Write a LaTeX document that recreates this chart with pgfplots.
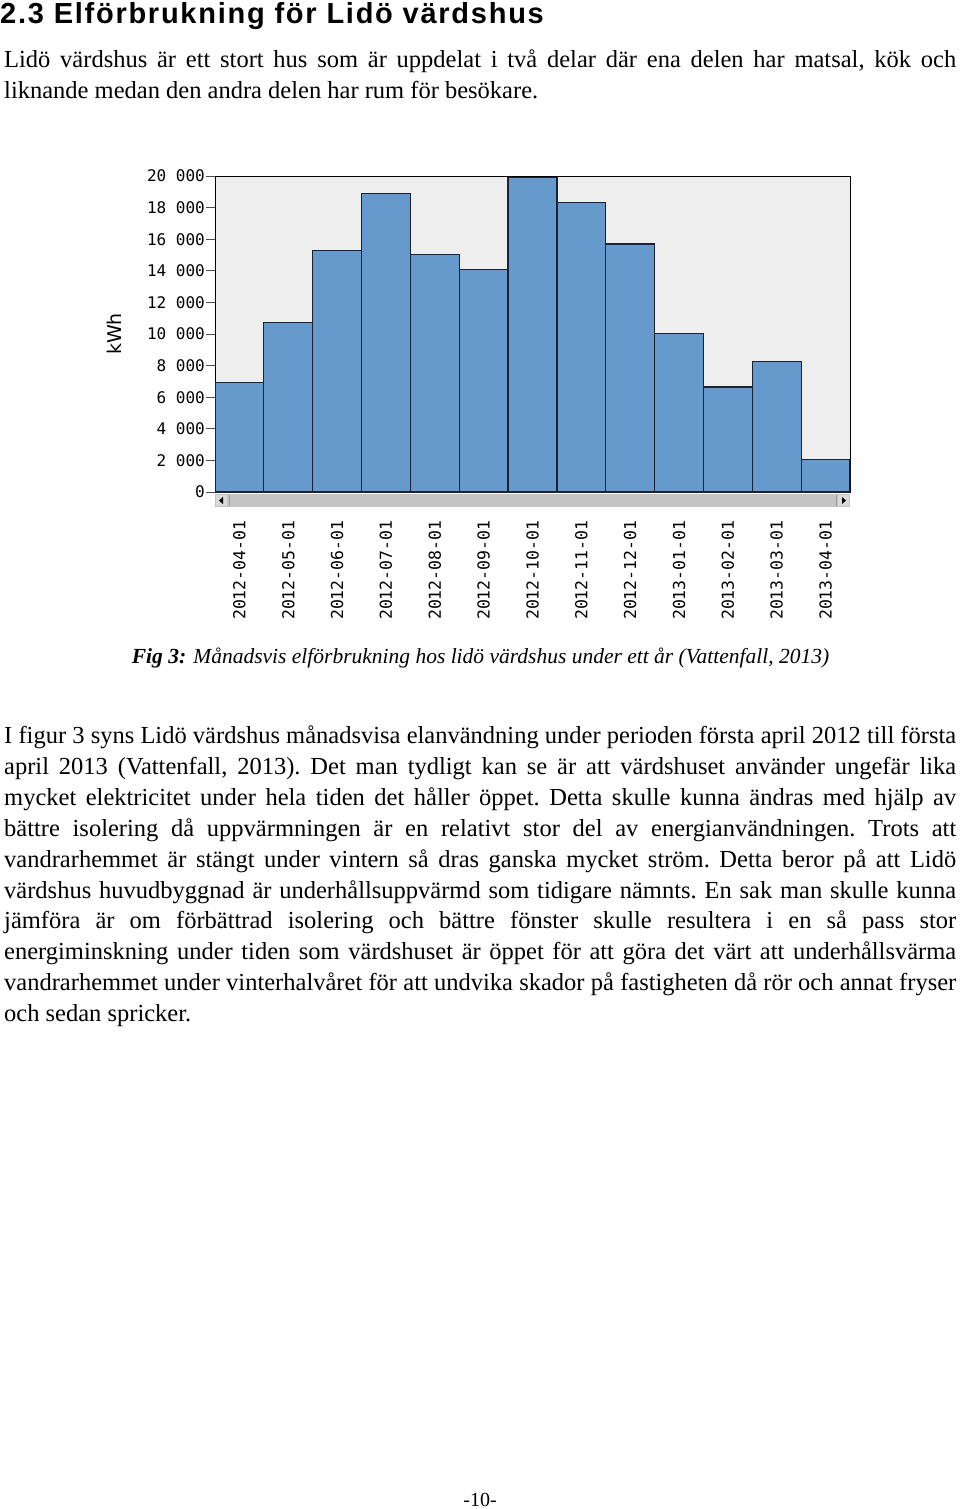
\documentclass[border=0pt]{standalone}
\usepackage{pgfplots}
\pgfplotsset{compat=1.18}
\usepackage{fontspec}
\setmainfont{Liberation Serif}
\newfontfamily\headfont[LetterSpace=6]{Liberation Sans}
\newfontfamily\monofont{DejaVu Sans Mono}
\newfontfamily\labelfont{DejaVu Sans}
\definecolor{barblue}{HTML}{6699CC}
\definecolor{plotbg}{HTML}{EEEEEE}
\definecolor{edge}{HTML}{1A2233}
\definecolor{sbar}{HTML}{C4C4C4}
\newcommand{\bodyfont}{\fontsize{24.5}{31}\selectfont\frenchspacing}
\newcommand{\jline}[2]{\node[anchor=base west, inner sep=0] at (4pt,-#1pt) {\bodyfont\makebox[952pt][s]{#2}};}
\newcommand{\nline}[2]{\node[anchor=base west, inner sep=0] at (4pt,-#1pt) {\bodyfont #2};}
\begin{document}
\begin{tikzpicture}
\useasboundingbox (0,0) rectangle (960pt,-1509pt);
\node[anchor=base west, inner sep=0] at (0pt,-24pt) {\headfont\bfseries\fontsize{29}{30}\selectfont 2.3 Elförbrukning för Lidö värdshus};
\jline{68}{Lidö värdshus är ett stort hus som är uppdelat i två delar där ena delen har matsal, kök och}
\nline{99}{liknande medan den andra delen har rum för besökare.}

\begin{axis}[
  at={(215pt,-492pt)}, anchor=south west,
  scale only axis, width=635pt, height=316pt,
  xmin=-0.5, xmax=12.5, ymin=0, ymax=20000,
  ybar, bar width=1,
  axis background/.style={fill=plotbg},
  axis line style={draw=black, line width=1pt},
  tick pos=left, tick align=outside, major tick length=9pt,
  ytick={0,2000,...,20000}, scaled y ticks=false,
  y tick style={draw=black!70, line width=0.8pt},
  xtick=data, xtick style={draw=none},
  xticklabels={2012-04-01,2012-05-01,2012-06-01,2012-07-01,2012-08-01,2012-09-01,2012-10-01,2012-11-01,2012-12-01,2013-01-01,2013-02-01,2013-03-01,2013-04-01},
  yticklabel style={font=\monofont\fontsize{16}{16}\selectfont, inner sep=1pt},
  xticklabel style={rotate=90, anchor=east, font=\monofont\fontsize{16.5}{16.5}\selectfont},
  xticklabel shift=16pt,
  /pgf/number format/.cd, 1000 sep={\ }, assume math mode=true,
  /pgfplots/.cd,
  ylabel={kWh},
  every axis y label/.style={at={(rel axis cs:-0.1465,0.5)}, rotate=90, anchor=south, inner sep=0pt, font=\labelfont\fontsize{19}{19}\selectfont},
]
\addplot[fill=barblue, draw=edge, line width=1.2pt] coordinates {
(0,6950) (1,10740) (2,15300) (3,18890) (4,15010) (5,14100) (6,19900)
(7,18300) (8,15700) (9,10040) (10,6650) (11,8250) (12,2060)};
\end{axis}
% scrollbar decoration
\fill[sbar] (215pt,-494pt) rectangle (850pt,-507pt);
\fill[black!15] (216pt,-495pt) rectangle (227pt,-506pt);
\fill[black!15] (838pt,-495pt) rectangle (849pt,-506pt);
\fill[black] (219pt,-500.5pt) -- (223pt,-497pt) -- (223pt,-504pt) -- cycle;
\fill[black] (846pt,-500.5pt) -- (842pt,-497pt) -- (842pt,-504pt) -- cycle;
\draw[black!40] (229pt,-495pt) -- (229pt,-506pt);
\draw[black!40] (836pt,-495pt) -- (836pt,-506pt);

\node[anchor=base, inner sep=0] at (480.5pt,-663pt) {\fontsize{21.5}{24}\selectfont\itshape\textbf{Fig 3:} Månadsvis elförbrukning hos lidö värdshus under ett år (Vattenfall, 2013)};

\jline{743.3}{I figur 3 syns Lidö värdshus månadsvisa elanvändning under perioden första april 2012 till första}
\jline{774.2}{april 2013 (Vattenfall, 2013). Det man tydligt kan se är att värdshuset använder ungefär lika}
\jline{805.2}{mycket elektricitet under hela tiden det håller öppet. Detta skulle kunna ändras med hjälp av}
\jline{836.1}{bättre isolering då uppvärmningen är en relativt stor del av energianvändningen. Trots att}
\jline{867.0}{vandrarhemmet är stängt under vintern så dras ganska mycket ström. Detta beror på att Lidö}
\jline{898.0}{värdshus huvudbyggnad är underhållsuppvärmd som tidigare nämnts. En sak man skulle kunna}
\jline{928.9}{jämföra är om förbättrad isolering och bättre fönster skulle resultera i en så pass stor}
\jline{959.8}{energiminskning under tiden som värdshuset är öppet för att göra det värt att underhållsvärma}
\jline{990.8}{vandrarhemmet under vinterhalvåret för att undvika skador på fastigheten då rör och annat fryser}
\nline{1021.7}{och sedan spricker.}

\node[anchor=base, inner sep=0] at (480pt,-1506pt) {\fontsize{20}{20}\selectfont -10-};
\end{tikzpicture}
\end{document}
